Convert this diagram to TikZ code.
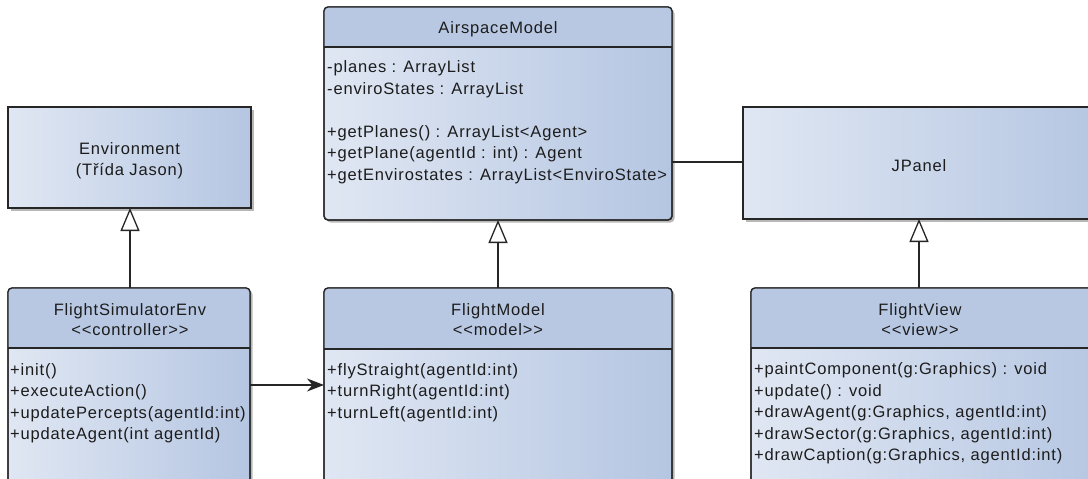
\documentclass[tikz,border=0pt]{standalone}
\usepackage{fontspec}
\setmainfont{Liberation Sans}[LetterSpace=5]
\usetikzlibrary{arrows.meta,shadows,calc}
\definecolor{hdr}{RGB}{184,200,227}
\definecolor{gl}{RGB}{224,231,243}
\definecolor{gr}{RGB}{181,198,226}
\definecolor{bd}{RGB}{38,38,38}
\definecolor{txtc}{RGB}{28,28,28}
\begin{document}
\begin{tikzpicture}[x=1pt,y=-1pt,
  boxbase/.style={draw=bd, line width=1.3pt, left color=gl, right color=gr,
    inner sep=0pt, outer sep=0pt, anchor=north west,
    drop shadow={shadow xshift=2.5pt, shadow yshift=-2.5pt, fill=black, opacity=0.28}},
  plainbox/.style={boxbase},
  classbox/.style={boxbase, rounded corners=4pt},
  borderline/.style={draw=bd, line width=1.3pt},
  txt/.style={anchor=base west, inner sep=0pt, text=txtc, font=\fontsize{16.5}{19}\selectfont},
  ctxt/.style={txt, anchor=base},
  inh/.style={draw=bd, line width=1.3pt, -{Triangle[length=23pt,width=19pt,fill=white,line width=1.3pt]}},
  assoc/.style={draw=bd, line width=1.3pt, -{Stealth[length=17pt,width=13pt]}},
  plainline/.style={draw=bd, line width=1.3pt}
]
\clip (0,0) rectangle (1088,479);
\fill[white] (0,0) rectangle (1088,479);

% plain boxes
\node[plainbox, minimum width=243pt, minimum height=101pt] (env) at (8,107) {};
\node[plainbox, minimum width=360pt, minimum height=112pt] (jp) at (743,107) {};

% class boxes
\node[classbox, minimum width=242pt, minimum height=230pt] (fse) at (8,288) {};
\node[classbox, minimum width=348pt, minimum height=213pt] (asm) at (324,7) {};
\node[classbox, minimum width=348pt, minimum height=230pt] (fm) at (324,288) {};
\node[classbox, minimum width=360pt, minimum height=230pt] (fv) at (751,288) {};

% headers
\newcommand\classhead[2]{%
  \begin{scope}
    \clip[rounded corners=4pt] (#1.north west) rectangle (#1.south east);
    \fill[hdr] (#1.north west) rectangle ([yshift=-#2]#1.north east);
  \end{scope}
  \draw[borderline] ([yshift=-#2]#1.north west) -- ([yshift=-#2]#1.north east);
  \draw[borderline, rounded corners=4pt] (#1.north west) rectangle (#1.south east);
}
\classhead{fse}{60pt}
\classhead{asm}{40pt}
\classhead{fm}{61pt}
\classhead{fv}{60pt}

% texts
\node[ctxt] (envt1) at (129.5,154) {Environment};
\node[ctxt] (envt2) at (129.5,175.5) {(Třída Jason)};
\node[ctxt] (jpt) at (919,171) {JPanel};

\node[ctxt] (asmh) at (498,33) {AirspaceModel};
\node[txt] (asm1) at (327,72.5) {-planes : ArrayList};
\node[txt] (asm2) at (327,94.5) {-enviroStates : ArrayList};
\node[txt] (asm3) at (327,137) {+getPlanes() : ArrayList{<}Agent{>}};
\node[txt] (asm4) at (327,158.5) {+getPlane(agentId : int) : Agent};
\node[txt] (asm5) at (327,180) {+getEnvirostates : ArrayList{<}EnviroState{>}};

\node[ctxt] (fseh1) at (130,315) {FlightSimulatorEnv};
\node[ctxt] (fseh2) at (130,335.5) {{<}{<}controller{>}{>}};
\node[txt] (fse1) at (10,375) {+init()};
\node[txt] (fse2) at (10,396.5) {+executeAction()};
\node[txt] (fse3) at (10,418) {+updatePercepts(agentId:int)};
\node[txt] (fse4) at (10,439.5) {+updateAgent(int agentId)};

\node[ctxt] (fmh1) at (498,315) {FlightModel};
\node[ctxt] (fmh2) at (498,335.5) {{<}{<}model{>}{>}};
\node[txt] (fm1) at (327,375) {+flyStraight(agentId:int)};
\node[txt] (fm2) at (327,396.5) {+turnRight(agentId:int)};
\node[txt] (fm3) at (327,418) {+turnLeft(agentId:int)};

\node[ctxt] (fvh1) at (920,315) {FlightView};
\node[ctxt] (fvh2) at (920,335.5) {{<}{<}view{>}{>}};
\node[txt] (fv1) at (754,374.5) {+paintComponent(g:Graphics) : void};
\node[txt] (fv2) at (754,396) {+update() : void};
\node[txt] (fv3) at (754,417.5) {+drawAgent(g:Graphics, agentId:int)};
\node[txt] (fv4) at (754,439) {+drawSector(g:Graphics, agentId:int)};
\node[txt] (fv5) at (754,460.5) {+drawCaption(g:Graphics, agentId:int)};

% connectors
\draw[inh] ([xshift=122pt]fse.north west) -- ([xshift=122pt]env.south west);
\draw[inh] (fm.north) -- (asm.south);
\draw[inh] ([xshift=168pt]fv.north west) -- ([xshift=176pt]jp.south west);
\draw[plainline] ([yshift=-155pt]asm.north east) -- ([yshift=-55pt]jp.north west);
\draw[assoc] ([yshift=-97pt]fse.north east) -- ([yshift=-97pt]fm.north west);
\end{tikzpicture}
\end{document}
